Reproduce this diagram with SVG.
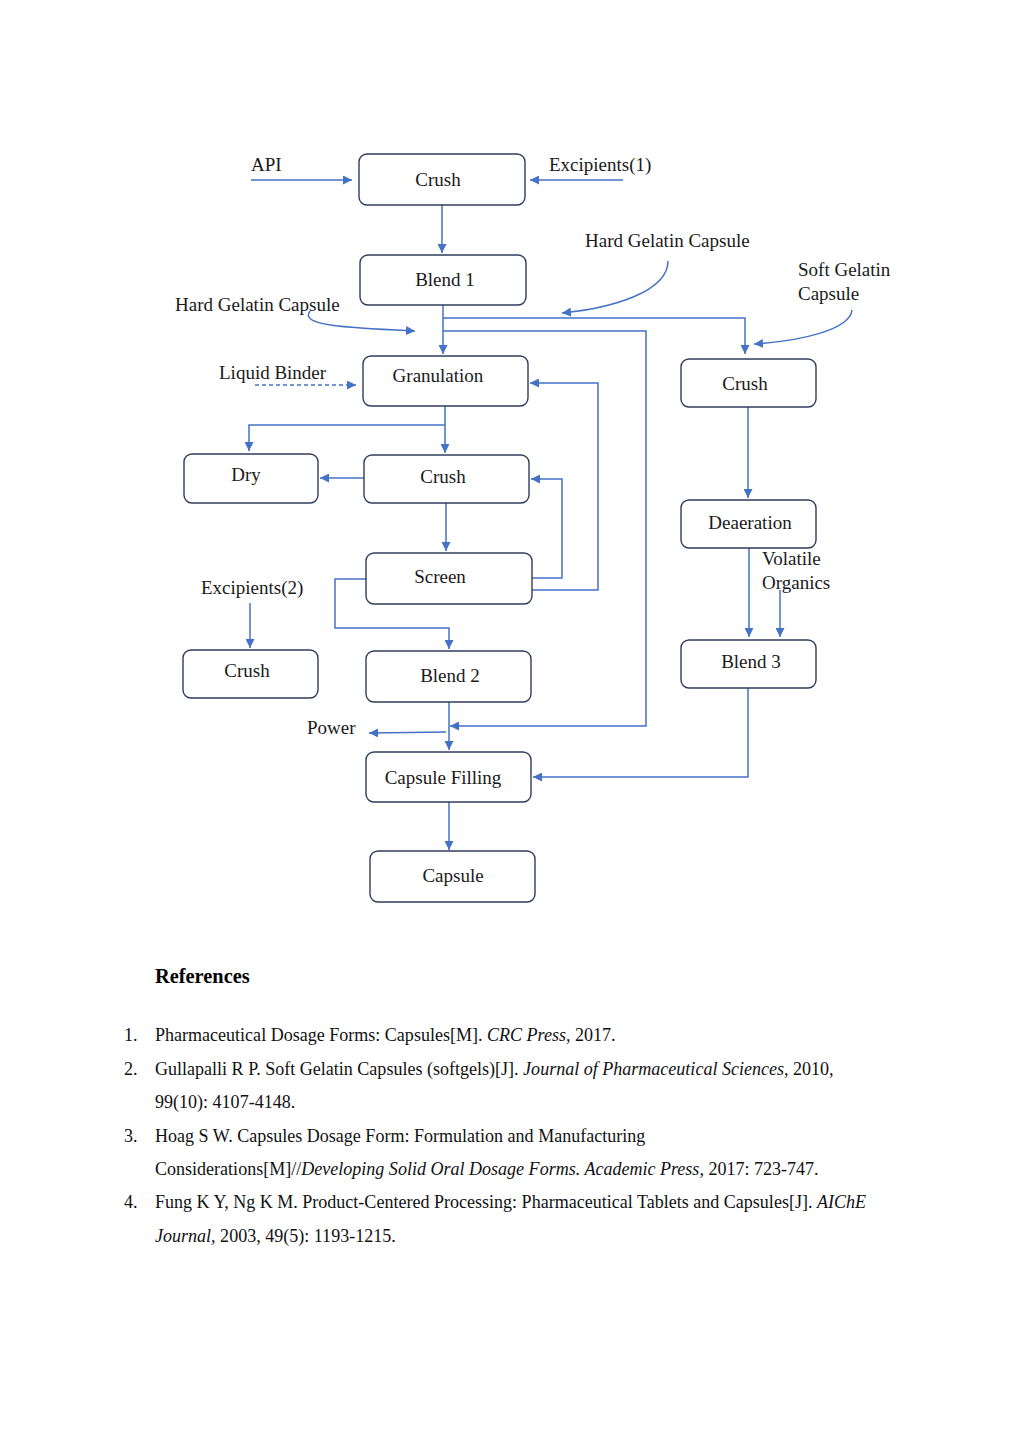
<svg xmlns="http://www.w3.org/2000/svg" width="1023" height="1447" viewBox="0 0 1023 1447">
<defs>
<style>
.box{fill:#fff;stroke:#2f3d5e;stroke-width:1.4}
.t{font-family:"Liberation Serif","Times New Roman",serif;font-size:19px;fill:#1a1a1a}
.c{text-anchor:middle}
.ln{fill:none;stroke:#4472c4;stroke-width:1.5}
.ref{font-family:"Liberation Serif","Times New Roman",serif;font-size:18.05px;fill:#111}
</style>
<marker id="ah" viewBox="0 0 10 10" refX="10" refY="5" markerWidth="9" markerHeight="9" markerUnits="userSpaceOnUse" orient="auto">
<path d="M0,0 L10,5 L0,10 z" fill="#4472c4"/>
</marker>
</defs>
<rect width="1023" height="1447" fill="#fff"/>

<g id="connectors">
<path class="ln" d="M251,180 H352" marker-end="url(#ah)"/>
<path class="ln" d="M623,180 H530" marker-end="url(#ah)"/>
<path class="ln" d="M442,205 V253" marker-end="url(#ah)"/>
<path class="ln" d="M443,305 V354" marker-end="url(#ah)"/>
<path class="ln" d="M443,318 H745 V354" marker-end="url(#ah)"/>
<path class="ln" d="M443,331 H646 V726 H450" marker-end="url(#ah)"/>
<path class="ln" d="M668,261 C668,292 612,308 562,313" marker-end="url(#ah)"/>
<path class="ln" d="M310,311 C298,326 350,328 415,331" marker-end="url(#ah)"/>
<path class="ln" d="M852,310 C850,330 800,341 754,344" marker-end="url(#ah)"/>
<path class="ln" d="M255,385 H356" stroke-dasharray="4,3" marker-end="url(#ah)"/>
<path class="ln" d="M445,406 V453" marker-end="url(#ah)"/>
<path class="ln" d="M445,425 H249 V451" marker-end="url(#ah)"/>
<path class="ln" d="M364,478 H320" marker-end="url(#ah)"/>
<path class="ln" d="M446,503 V551" marker-end="url(#ah)"/>
<path class="ln" d="M532,578 H562 V479 H531" marker-end="url(#ah)"/>
<path class="ln" d="M532,590 H598 V383 H530" marker-end="url(#ah)"/>
<path class="ln" d="M366,579 H335 V628 H449 V649" marker-end="url(#ah)"/>
<path class="ln" d="M250,603 V648" marker-end="url(#ah)"/>
<path class="ln" d="M449,702 V750" marker-end="url(#ah)"/>
<path class="ln" d="M446,732 L369,733" marker-end="url(#ah)"/>
<path class="ln" d="M748,407 V498" marker-end="url(#ah)"/>
<path class="ln" d="M749,548 V637" marker-end="url(#ah)"/>
<path class="ln" d="M780,590 V637" marker-end="url(#ah)"/>
<path class="ln" d="M748,688 V777 H533" marker-end="url(#ah)"/>
<path class="ln" d="M449,802 V850" marker-end="url(#ah)"/>
</g>

<g id="labels">
<text class="t" x="251" y="171">API</text>
<text class="t" x="549" y="171">Excipients(1)</text>
<text class="t" x="585" y="247">Hard Gelatin Capsule</text>
<text class="t" x="798" y="276">Soft Gelatin</text>
<text class="t" x="798" y="300">Capsule</text>
<text class="t" x="175" y="311">Hard Gelatin Capsule</text>
<text class="t" x="219" y="379">Liquid Binder</text>
<text class="t" x="201" y="594">Excipients(2)</text>
<text class="t" x="762" y="565">Volatile</text>
<text class="t" x="762" y="589">Organics</text>
<text class="t" x="307" y="734">Power</text>
</g>

<g id="n-crush1"><rect class="box" x="359" y="154" width="166" height="51" rx="8"/><text class="t c" x="438" y="186">Crush</text></g>
<g id="n-blend1"><rect class="box" x="360" y="255" width="166" height="50" rx="8"/><text class="t c" x="445" y="286">Blend 1</text></g>
<g id="n-granulation"><rect class="box" x="363" y="356" width="165" height="50" rx="8"/><text class="t c" x="438" y="382">Granulation</text></g>
<g id="n-dry"><rect class="box" x="184" y="454" width="134" height="49" rx="8"/><text class="t c" x="246" y="481">Dry</text></g>
<g id="n-crush2"><rect class="box" x="364" y="455" width="165" height="48" rx="8"/><text class="t c" x="443" y="483">Crush</text></g>
<g id="n-screen"><rect class="box" x="366" y="553" width="166" height="51" rx="8"/><text class="t c" x="440" y="583">Screen</text></g>
<g id="n-crush3"><rect class="box" x="183" y="650" width="135" height="48" rx="8"/><text class="t c" x="247" y="677">Crush</text></g>
<g id="n-blend2"><rect class="box" x="366" y="651" width="165" height="51" rx="8"/><text class="t c" x="450" y="682">Blend 2</text></g>
<g id="n-filling"><rect class="box" x="366" y="752" width="165" height="50" rx="8"/><text class="t c" x="443" y="784">Capsule Filling</text></g>
<g id="n-capsule"><rect class="box" x="370" y="851" width="165" height="51" rx="8"/><text class="t c" x="453" y="882">Capsule</text></g>
<g id="n-crush4"><rect class="box" x="681" y="359" width="135" height="48" rx="8"/><text class="t c" x="745" y="390">Crush</text></g>
<g id="n-deaeration"><rect class="box" x="681" y="500" width="135" height="48" rx="8"/><text class="t c" x="750" y="529">Deaeration</text></g>
<g id="n-blend3"><rect class="box" x="681" y="640" width="135" height="48" rx="8"/><text class="t c" x="751" y="668">Blend 3</text></g>

<g id="references">
<text x="155" y="983" font-family="'Liberation Serif',serif" font-size="20.4px" font-weight="bold" fill="#000">References</text>
<text class="ref" x="124" y="1041">1.</text>
<text class="ref" x="155" y="1041">Pharmaceutical Dosage Forms: Capsules[M]. <tspan font-style="italic">CRC Press,</tspan> 2017.</text>
<text class="ref" x="124" y="1075">2.</text>
<text class="ref" x="155" y="1075">Gullapalli R P. Soft Gelatin Capsules (softgels)[J]. <tspan font-style="italic">Journal of Pharmaceutical Sciences,</tspan> 2010,</text>
<text class="ref" x="155" y="1108">99(10): 4107-4148.</text>
<text class="ref" x="124" y="1142">3.</text>
<text class="ref" x="155" y="1142">Hoag S W. Capsules Dosage Form: Formulation and Manufacturing</text>
<text class="ref" x="155" y="1175">Considerations[M]//<tspan font-style="italic">Developing Solid Oral Dosage Forms. Academic Press,</tspan> 2017: 723-747.</text>
<text class="ref" x="124" y="1208">4.</text>
<text class="ref" x="155" y="1208">Fung K Y, Ng K M. Product-Centered Processing: Pharmaceutical Tablets and Capsules[J]. <tspan font-style="italic">AIChE</tspan></text>
<text class="ref" x="155" y="1242"><tspan font-style="italic">Journal,</tspan> 2003, 49(5): 1193-1215.</text>
</g>
</svg>
